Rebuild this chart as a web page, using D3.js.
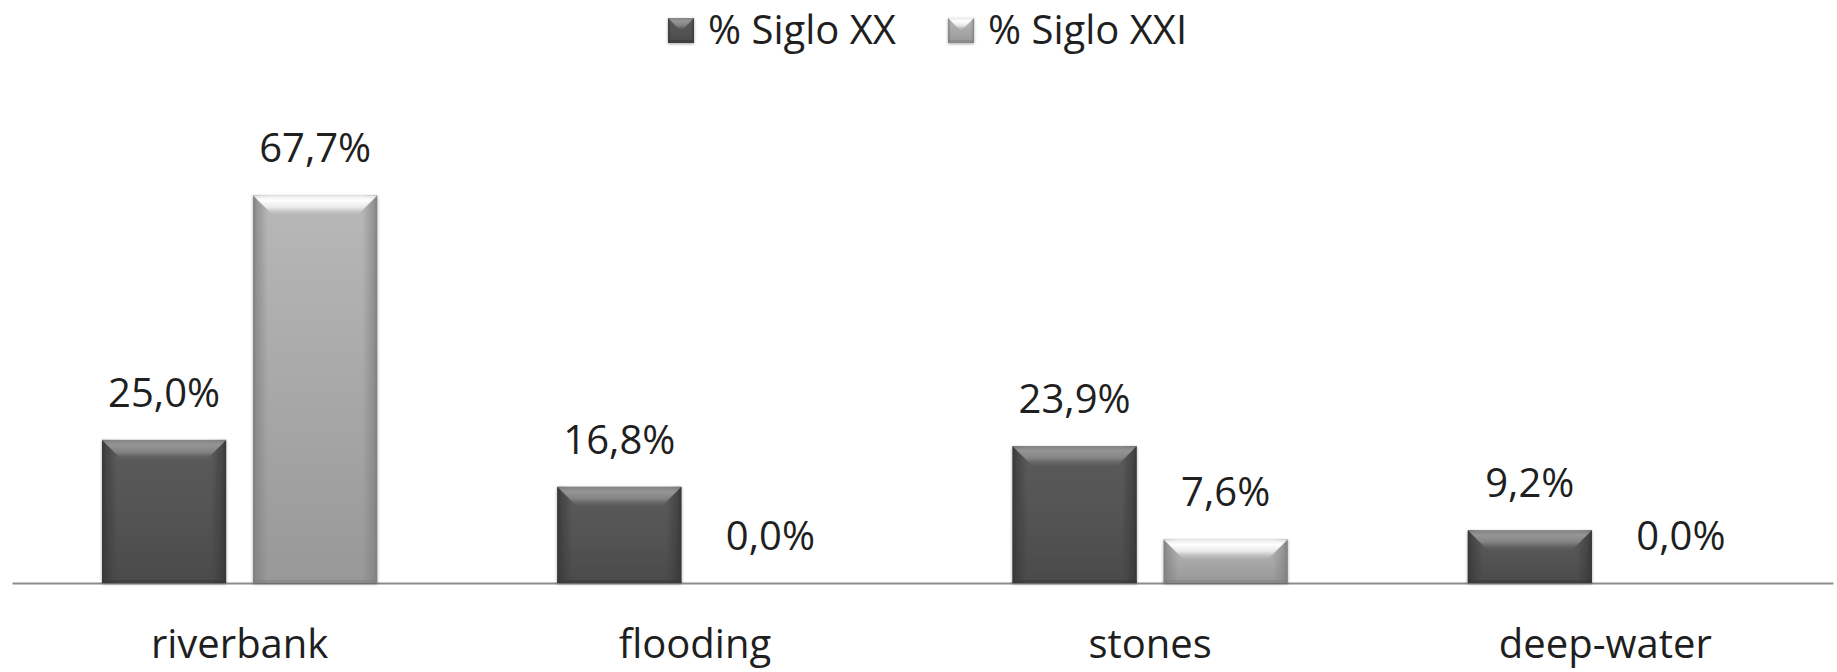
<!DOCTYPE html>
<html>
<head>
<meta charset="utf-8">
<script src="https://cdn.jsdelivr.net/npm/d3@7"></script>
<style>
body { margin: 0; background: #fff; }
text { font-family: "Open Sans", "Noto Sans", sans-serif; fill: #1f1f1f; }
</style>
</head>
<body>
<svg id="chart" width="1837" height="672"></svg>
<script>
// data
var categories = ["riverbank", "flooding", "stones", "deep-water"];
var series = ["% Siglo XX", "% Siglo XXI"];
var sigloXX  = [25.0, 16.8, 23.9, 9.2];
var sigloXXI = [67.7, 0.0, 7.6, 0.0];

var values = [sigloXX, sigloXXI];
var fmt = function(v) { return d3.format(".1f")(v).replace(".", ",") + "%"; };

var svg = d3.select("#chart");
var defs = svg.append("defs");

// bar look: edge shade, body top/bottom, bevel highlight
var looks = [
  { id: "dk", edge: "#363636", top: "#5c5c5c", bottom: "#4b4b4b", hi: "#959595" },
  { id: "lt", edge: "#7e7e7e", top: "#b8b8b8", bottom: "#989898", hi: "#ffffff" }
];

var f = defs.append("filter").attr("id", "sh").attr("x", "-10%").attr("y", "-10%")
  .attr("width", "120%").attr("height", "120%");
f.append("feDropShadow").attr("dx", 0).attr("dy", 1).attr("stdDeviation", 1.5)
  .attr("flood-color", "#000").attr("flood-opacity", 0.35);

looks.forEach(function(l) {
  var v = defs.append("linearGradient").attr("id", l.id + "v")
    .attr("x1", 0).attr("y1", 0).attr("x2", 0).attr("y2", 1);
  v.append("stop").attr("offset", "0%").attr("stop-color", l.top);
  v.append("stop").attr("offset", "100%").attr("stop-color", l.bottom);

  var h = defs.append("linearGradient").attr("id", l.id + "h")
    .attr("x1", 0).attr("y1", 0).attr("x2", 1).attr("y2", 0);
  h.append("stop").attr("offset", "0%").attr("stop-color", l.edge).attr("stop-opacity", 1);
  h.append("stop").attr("offset", "3%").attr("stop-color", l.edge).attr("stop-opacity", 0.6);
  h.append("stop").attr("offset", "12%").attr("stop-color", l.edge).attr("stop-opacity", 0);
  h.append("stop").attr("offset", "88%").attr("stop-color", l.edge).attr("stop-opacity", 0);
  h.append("stop").attr("offset", "97%").attr("stop-color", l.edge).attr("stop-opacity", 0.6);
  h.append("stop").attr("offset", "100%").attr("stop-color", l.edge).attr("stop-opacity", 1);

  var t = defs.append("linearGradient").attr("id", l.id + "t")
    .attr("x1", 0).attr("y1", 0).attr("x2", 0).attr("y2", 1);
  t.append("stop").attr("offset", "0%").attr("stop-color", l.hi).attr("stop-opacity", 0.7);
  t.append("stop").attr("offset", "25%").attr("stop-color", l.hi);
  t.append("stop").attr("offset", "60%").attr("stop-color", l.hi).attr("stop-opacity", 0.7);
  t.append("stop").attr("offset", "100%").attr("stop-color", l.top).attr("stop-opacity", 0.2);
});

function bevelBar(g, x, y, w, h, look, b) {
  if (h <= 0) return;
  b = Math.min(b, h / 2, w / 2);
  var bar = g.append("g").attr("filter", "url(#sh)");
  bar.append("rect").attr("x", x).attr("y", y).attr("width", w).attr("height", h)
    .attr("fill", "url(#" + look.id + "v)");
  bar.append("rect").attr("x", x).attr("y", y).attr("width", w).attr("height", h)
    .attr("fill", "url(#" + look.id + "h)");
  bar.append("path")
    .attr("d", "M" + x + "," + y + "H" + (x + w) + "L" + (x + w - b) + "," + (y + b) +
               "H" + (x + b) + "Z")
    .attr("fill", "url(#" + look.id + "t)");
  bar.append("rect").attr("x", x).attr("y", y + h - 3).attr("width", w).attr("height", 3)
    .attr("fill", look.edge).attr("opacity", 0.5);
}

var x0 = d3.scaleBand().domain(categories).range([12, 1833]);
var x1 = d3.scaleBand().domain(series).range([0, x0.bandwidth()])
  .paddingInner(0.179).paddingOuter(0.596);
var y = d3.scaleLinear().domain([0, 80]).range([583, 125]);

// axis
var axis = svg.append("g").attr("transform", "translate(0," + y(0) + ")")
  .call(d3.axisBottom(x0).tickSize(0).tickSizeOuter(0));
axis.select(".domain").attr("stroke", "#8c8c8c").attr("stroke-width", 2);
axis.selectAll("text").attr("y", 75).attr("dy", 0)
  .style("font-size", "40px").style("font-family", "'Open Sans', sans-serif")
  .attr("fill", "#1f1f1f");

// bars
var groups = svg.append("g").selectAll("g").data(categories).join("g")
  .attr("transform", function(d) { return "translate(" + x0(d) + ",0)"; });

groups.each(function(c, ci) {
  var g = d3.select(this);
  series.forEach(function(s, si) {
    var v = values[si][ci];
    bevelBar(g, x1(s), y(v), x1.bandwidth(), y(0) - y(v), looks[si], 20);
    g.append("text")
      .attr("x", x1(s) + x1.bandwidth() / 2)
      .attr("y", y(v) - 33)
      .attr("text-anchor", "middle")
      .style("font-size", "40px")
      .text(fmt(v));
  });
});

// legend
var legendX = [668, 948];
var legend = svg.append("g");
series.forEach(function(s, si) {
  var lg = legend.append("g");
  bevelBar(lg, legendX[si], 18, 26, 25, looks[si], 13);
  lg.append("text").attr("x", legendX[si] + 40).attr("y", 44)
    .style("font-size", "40px").text(s);
});
</script>
</body>
</html>
